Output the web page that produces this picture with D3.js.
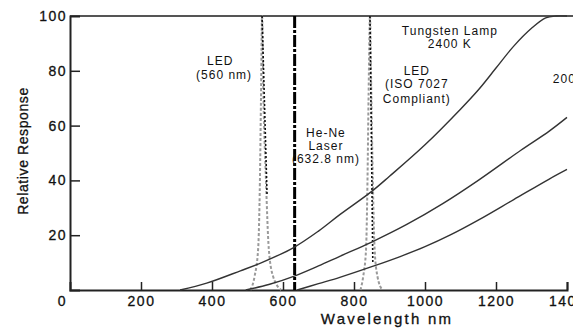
<!DOCTYPE html>
<html>
<head>
<meta charset="utf-8">
<script src="https://cdn.jsdelivr.net/npm/d3@7"></script>
<style>
  body { margin: 0; background: #fff; }
  text { font-family: "Liberation Sans", Arial, sans-serif; fill: #111; }
</style>
</head>
<body>
<div id="chart"></div>
<script>
// x / y ticks
const xTicks = [0, 200, 400, 600, 800, 1000, 1200, 1400];
const yTicks = [20, 40, 60, 80, 100];

// response curves [wavelength nm, relative response]
const tungsten2400 = [[310, 0], [385, 2.5], [480, 7], [540, 10], [630, 15.5], [700, 21.5], [760, 27.5],
  [850, 36], [900, 41.5], [1000, 53], [1100, 66], [1150, 73], [1200, 81], [1250, 89], [1300, 95.5],
  [1340, 99.3], [1370, 100], [1400, 100]];
const curveMid = [[495, 0], [560, 2], [630, 5], [700, 8.8], [760, 12.3], [850, 17.5], [950, 24],
  [1050, 31.5], [1150, 40], [1270, 51], [1350, 58], [1400, 63]];
const curve2000 = [[640, 0], [700, 2.3], [760, 4.6], [850, 8.5], [930, 12.2], [1000, 15.8], [1070, 20],
  [1150, 25.5], [1250, 33], [1350, 40.5], [1400, 44]];

// LED emission peaks
const led560 = [[508, 0], [520, 5], [530, 15], [535, 40], [538, 70], [541, 100],
  [545, 70], [552, 40], [560, 15], [572, 5], [595, 0]];
const led560Core = [[541, 100], [555, 35]];
const led850 = [[818, 0], [826, 5], [834, 15], [838, 40], [841, 70], [845, 100],
  [849, 70], [853, 40], [858, 15], [866, 5], [880, 0]];
const led850Core = [[845, 100], [853, 10]];
const laserWl = 632.8;

const width = 573, height = 331;
const svg = d3.select("#chart").append("svg")
  .attr("width", width).attr("height", height);

const x = d3.scaleLinear().domain([0, 1400]).range([70, 567]);
const y = d3.scaleLinear().domain([0, 100]).range([290, 16]);

const smooth = d3.line().x(d => x(d[0])).y(d => y(d[1])).curve(d3.curveCatmullRom.alpha(0.5));
const peak = d3.line().x(d => x(d[0])).y(d => y(d[1])).curve(d3.curveMonotoneX);
const straight = d3.line().x(d => x(d[0])).y(d => y(d[1]));

// frame
svg.append("line").attr("x1", x(0)).attr("x2", width).attr("y1", y(100)).attr("y2", y(100))
  .attr("stroke", "#555").attr("stroke-width", 2);

// axes
const xAxis = svg.append("g").attr("transform", `translate(0,${y(0)})`)
  .call(d3.axisBottom(x).tickValues(xTicks).tickSize(-8).tickPadding(6).tickFormat(d3.format("d")));
const yAxis = svg.append("g").attr("transform", `translate(${x(0)},0)`)
  .call(d3.axisLeft(y).tickValues(yTicks).tickSize(-10).tickPadding(4));
[xAxis, yAxis].forEach(g => {
  g.select(".domain").attr("stroke", "#222").attr("stroke-width", 2);
  g.selectAll(".tick line").attr("stroke", "#222").attr("stroke-width", 1.5);
  g.selectAll("text").attr("font-size", 14).attr("letter-spacing", 1.5)
    .attr("font-family", "'Liberation Sans', Arial, sans-serif").attr("fill", "#111")
    .attr("stroke", "#111").attr("stroke-width", 0.3);
});
xAxis.selectAll(".tick").filter(d => d === 0).select("line").remove();
xAxis.selectAll(".tick").filter(d => d === 0).select("text").attr("dx", -8);
yAxis.selectAll(".tick").filter(d => d === 100).select("line").remove();
yAxis.selectAll(".tick text").attr("dx", 1);

// axis titles
svg.append("text").attr("x", 387).attr("y", 324).attr("text-anchor", "middle")
  .attr("font-size", 15).attr("letter-spacing", 2.2).attr("stroke", "#111").attr("stroke-width", 0.3)
  .text("Wavelength nm");
svg.append("text").attr("transform", `translate(28,${151}) rotate(-90)`).attr("text-anchor", "middle")
  .attr("font-size", 14).attr("letter-spacing", 0.6).attr("stroke", "#111").attr("stroke-width", 0.3)
  .text("Relative Response");

// LED peaks
[led560, led850].forEach(p => svg.append("path").attr("d", peak(p)).attr("fill", "none")
  .attr("stroke", "#9a9a9a").attr("stroke-width", 2).attr("stroke-dasharray", "3,2"));
[led560Core, led850Core].forEach(p => svg.append("path").attr("d", straight(p)).attr("fill", "none")
  .attr("stroke", "#111").attr("stroke-width", 1.6).attr("stroke-dasharray", "2,2"));

// laser line
svg.append("line").attr("x1", x(laserWl)).attr("x2", x(laserWl)).attr("y1", y(100)).attr("y2", y(0))
  .attr("stroke", "#000").attr("stroke-width", 3).attr("stroke-dasharray", "12,2,3,2");

// response curves
[tungsten2400, curveMid, curve2000].forEach(c => svg.append("path").attr("d", smooth(c))
  .attr("fill", "none").attr("stroke", "#333").attr("stroke-width", 1.4));

// annotations
const notes = [
  { t: "LED", wl: 423, v: 82 }, { t: "(560 nm)", wl: 434, v: 77 },
  { t: "He-Ne", wl: 721, v: 55.8 }, { t: "Laser", wl: 721, v: 51.1 }, { t: "(632.8 nm)", wl: 721, v: 46.4 },
  { t: "Tungsten Lamp", wl: 1070, v: 93 }, { t: "2400 K", wl: 1070, v: 88.3 },
  { t: "LED", wl: 977, v: 78.5 }, { t: "(ISO 7027", wl: 977, v: 73.7 }, { t: "Compliant)", wl: 977, v: 68.2 }
];
svg.selectAll(".note").data(notes).join("text").attr("class", "note")
  .attr("x", d => x(d.wl)).attr("y", d => y(d.v)).attr("text-anchor", "middle")
  .attr("font-size", 12).attr("letter-spacing", 1).text(d => d.t);
svg.append("text").attr("x", x(1360)).attr("y", y(75.5)).attr("font-size", 12)
  .attr("letter-spacing", 1).text("2000 K");
</script>
</body>
</html>
